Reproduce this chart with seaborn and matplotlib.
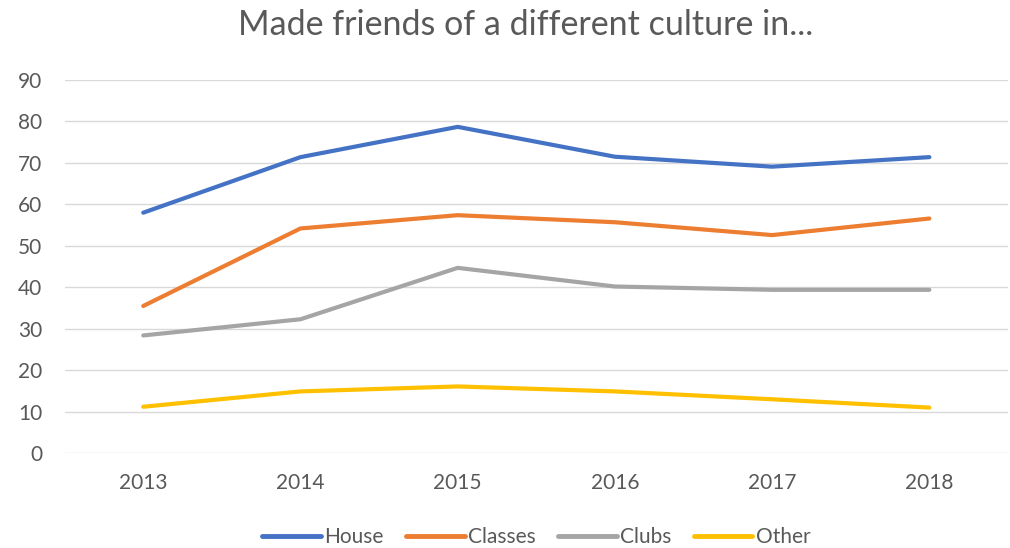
import matplotlib
matplotlib.use("Agg")
import matplotlib.pyplot as plt
import seaborn as sns
import pandas as pd

years = ["2013", "2014", "2015", "2016", "2017", "2018"]
house = [58.0, 71.4, 78.7, 71.5, 69.1, 71.4]
classes = [35.5, 54.2, 57.4, 55.7, 52.6, 56.6]
clubs = [28.4, 32.3, 44.7, 40.2, 39.4, 39.4]
other = [11.2, 14.9, 16.1, 14.9, 13.0, 11.0]
series_names = ["House", "Classes", "Clubs", "Other"]
colors = ["#4472C4", "#ED7D31", "#A5A5A5", "#FFC000"]

rows = []
for name, vals in zip(series_names, [house, classes, clubs, other]):
    for y, v in zip(years, vals):
        rows.append({"Year": y, "Value": v, "Series": name})
df = pd.DataFrame(rows)

sns.set_theme(style="white")
plt.rcParams["font.family"] = ["Lato", "DejaVu Sans"]

fig = plt.figure(figsize=(10.10, 5.48), dpi=100)
ax = fig.add_axes([0.064, 0.173, 0.934, 0.681])

sns.lineplot(data=df, x="Year", y="Value", hue="Series", palette=colors,
             hue_order=series_names, linewidth=3.0, ax=ax, sort=False,
             solid_capstyle="round")

ax.set_ylim(0, 90)
ax.set_xlim(-0.5, 5.5)
ax.set_yticks(range(0, 91, 10))
ax.grid(axis="y", color="#D9D9D9", linewidth=1)
ax.set_axisbelow(True)
for s in ax.spines.values():
    s.set_visible(False)
ax.tick_params(axis="both", length=0, labelsize=15, labelcolor="#595959")
ax.tick_params(axis="x", pad=14)
ax.tick_params(axis="y", pad=16)
ax.set_xlabel("")
ax.set_ylabel("")

fig.suptitle("Made friends of a different culture in...", x=0.52, y=0.983,
             fontsize=24.5, color="#595959")

leg = ax.legend(loc="center", bbox_to_anchor=(0.5, -0.225), ncol=4, frameon=False,
                fontsize=15, handlelength=2.8, columnspacing=1.1, handletextpad=0.15)
for t in leg.get_texts():
    t.set_color("#595959")
for l in leg.get_lines():
    l.set_linewidth(3.5)

fig.savefig("out.png", dpi=100)
